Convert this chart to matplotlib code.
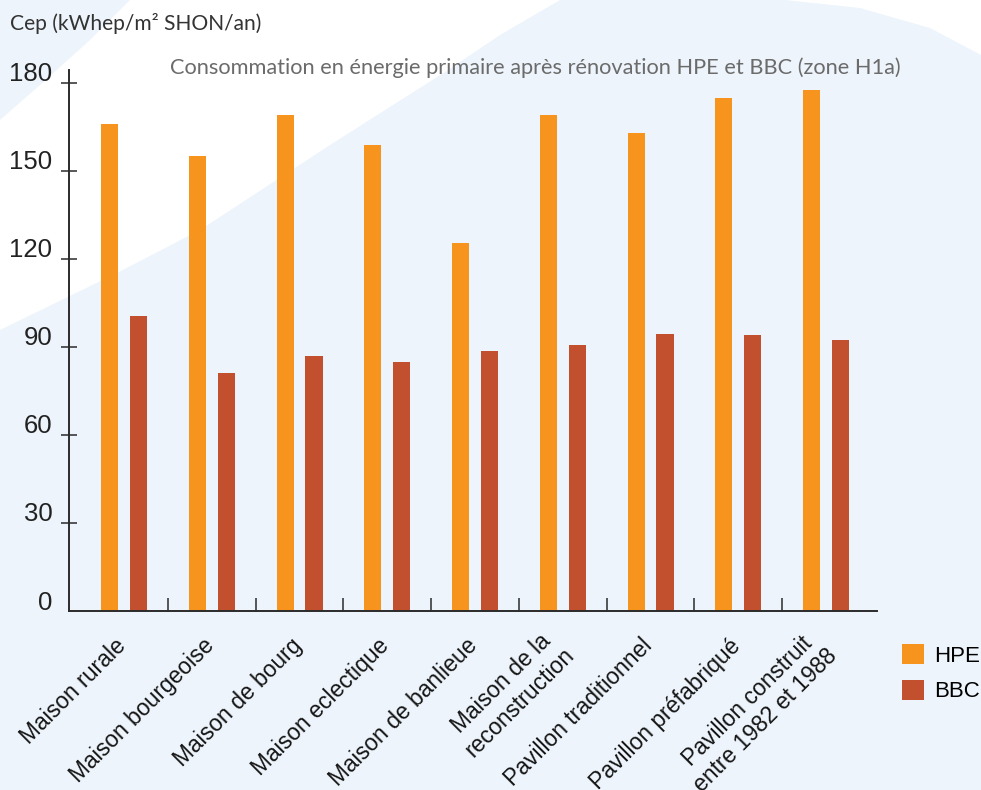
import matplotlib
matplotlib.use("Agg")
import matplotlib.pyplot as plt
import numpy as np
from matplotlib.patches import Polygon
from matplotlib.transforms import ScaledTranslation

# Housing types (x categories)
categories = [
    "Maison rurale",
    "Maison bourgeoise",
    "Maison de bourg",
    "Maison eclectique",
    "Maison de banlieue",
    "Maison de la\nreconstruction",
    "Pavillon traditionnel",
    "Pavillon préfabriqué",
    "Pavillon construit\nentre 1982 et 1988",
]

# Primary energy consumption after renovation (kWhep/m² SHON/an)
hpe_values = [166, 155, 169, 159, 125.5, 169, 163, 175, 177.5]
bbc_values = [100.5, 81, 87, 85, 88.5, 90.5, 94.5, 94, 92.5]

y_ticks = [0, 30, 60, 90, 120, 150, 180]
series_labels = ["HPE", "BBC"]

title_text = "Consommation en énergie primaire après rénovation HPE et BBC (zone H1a)"
unit_text = "Cep (kWhep/m² SHON/an)"

ORANGE = "#F7941D"
RUST = "#C24F2E"
BG = "#EDF4FB"
AXIS = "#2b2b2b"

W, H = 981, 790
fig = plt.figure(figsize=(W / 100, H / 100), dpi=100, facecolor=BG)


def px(points):
    return [(x / W, 1 - y / H) for x, y in points]


# Light swoosh in the background
swoosh = Polygon(px([(130, 0), (560, 0), (500, 35), (445, 72), (330, 145),
                     (200, 230), (117, 273), (0, 330), (0, 120), (40, 85),
                     (90, 40)]),
                 closed=True, transform=fig.transFigure, facecolor="white",
                 edgecolor="none", zorder=-2)
fig.patches.append(swoosh)
corner = Polygon(px([(785, 0), (981, 0), (981, 55), (930, 28), (860, 8)]),
                 closed=True, transform=fig.transFigure, facecolor="white",
                 edgecolor="none", zorder=-2)
fig.patches.append(corner)

ax = fig.add_axes([69 / W, 1 - 611 / H, (877 - 69) / W, (611 - 70) / H])
ax.patch.set_alpha(0)

x = np.arange(len(categories))
offset = 0.165
width = 0.194
b1 = ax.bar(x - offset, hpe_values, width, color=ORANGE, label=series_labels[0], zorder=2)
b2 = ax.bar(x + offset, bbc_values, width, color=RUST, label=series_labels[1], zorder=2)

ax.set_xlim(-0.627, 8.581)
ax.set_ylim(0, 184.4)

for s in ["top", "right"]:
    ax.spines[s].set_visible(False)
for s in ["left", "bottom"]:
    ax.spines[s].set_color(AXIS)
    ax.spines[s].set_linewidth(1.4)

tick_font = {"family": "Liberation Sans", "size": 18.5}
ax.set_yticks(y_ticks)
ax.set_yticklabels([str(v) for v in y_ticks], fontdict=tick_font, color="#222222")
ax.tick_params(axis="y", direction="inout", length=11, width=1.1, color=AXIS, pad=6.5)
ax.yaxis.get_major_ticks()[0].tick1line.set_visible(False)
lift = ScaledTranslation(0, 0.11, fig.dpi_scale_trans)
for lab in ax.get_yticklabels():
    lab.set_transform(lab.get_transform() + lift)

# Group separators on the x axis
ax.set_xticks([])
ax.set_xticks(x[:-1] + 0.5, minor=True)
ax.tick_params(axis="x", which="minor", direction="in", length=9.5, width=1.1, color=AXIS)

label_shift = ScaledTranslation(-0.015, -0.315, fig.dpi_scale_trans)
for xi, name in zip(x, categories):
    ax.text(xi, 0, name, transform=ax.get_xaxis_transform() + label_shift,
            rotation=45, rotation_mode="anchor", ha="right", va="center",
            multialignment="center", family="Liberation Sans", fontsize=16.5,
            color="#151515")

# Header texts
renderer = fig.canvas.get_renderer()


def fitted_text(xp, yp, s, width_px, size, color):
    t = fig.text(xp / W, 1 - yp / H, s, ha="left", va="baseline",
                 family="Lato", fontsize=size, color=color)
    w = t.get_window_extent(renderer).width
    t.set_fontsize(size * width_px / w)
    return t


fitted_text(170, 73.5, title_text, 735, 14, "#6b6b6b")
fitted_text(10, 30, unit_text, 252, 15, "#333333")

ax.legend(handles=[b1, b2], labels=series_labels, loc="upper left",
          bbox_to_anchor=(902 / W, 1 - 644 / H), bbox_transform=fig.transFigure,
          frameon=False, prop={"family": "Liberation Sans", "size": 16},
          handlelength=1.0, handleheight=1.0, handletextpad=0.45,
          labelspacing=0.6, borderpad=0, borderaxespad=0)

fig.savefig("out.png", dpi=100, facecolor=BG)
